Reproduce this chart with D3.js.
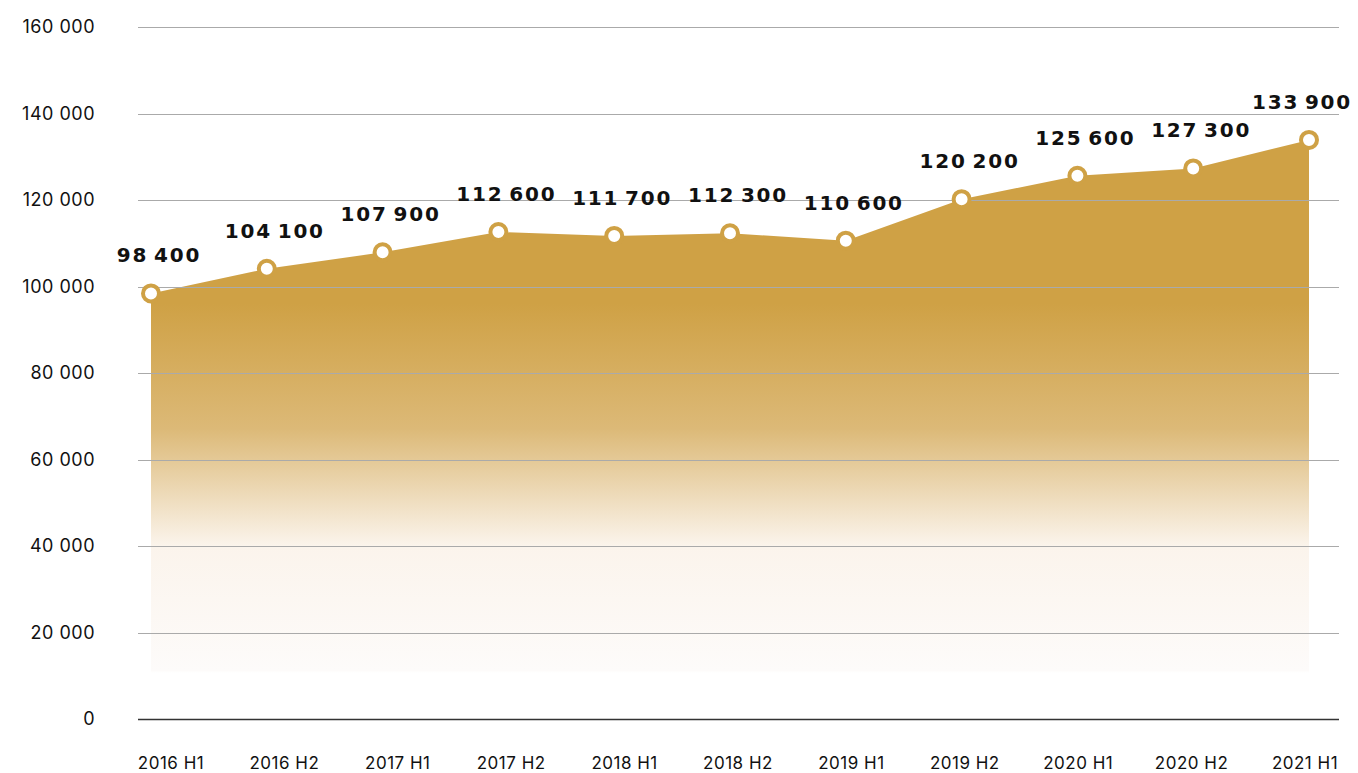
<!DOCTYPE html>
<html>
<head>
<meta charset="utf-8">
<script src="https://cdn.jsdelivr.net/npm/d3@7"></script>
<style>
  body { margin: 0; background: #fff; }
  svg { display: block; }
  .axis-label { font-family: Inter, "Noto Sans", sans-serif; fill: #111; }
  .value-label { font-family: "DejaVu Sans", sans-serif; font-weight: bold; font-size: 20px; letter-spacing: 1.8px; word-spacing: -3px; fill: #111; }
</style>
</head>
<body>
<svg id="chart" width="1358" height="773"></svg>
<script>
// periods and values (thousands shown with space separator)
const periods = ['2016 H1', '2016 H2', '2017 H1', '2017 H2', '2018 H1', '2018 H2',
                 '2019 H1', '2019 H2', '2020 H1', '2020 H2', '2021 H1']
const values = [98400, 104100, 107900, 112600, 111700, 112300, 110600, 120200, 125600, 127300, 133900]
const yTicks = [0, 20000, 40000, 60000, 80000, 100000, 120000, 140000, 160000]

const gold = '#cfa145'
const svg = d3.select('#chart')

// scales
const x = d3.scalePoint().domain(periods).range([151, 1309])
const xLabel = d3.scalePoint().domain(periods).range([171, 1305])
const y = d3.scaleLinear().domain([0, 160000]).range([719, 27])

const fmt = v => d3.format(',')(v).replace(/,/g, ' ')

// gradient for the area, anchored to the plot coordinates
const grad = svg.append('defs').append('linearGradient')
  .attr('id', 'areaFill')
  .attr('gradientUnits', 'userSpaceOnUse')
  .attr('x1', 0).attr('x2', 0)
  .attr('y1', y(160000)).attr('y2', y(0))
grad.selectAll('stop')
  .data([
    { o: 0, c: gold, a: 1 },
    { o: 0.4, c: gold, a: 1 },
    { o: 0.58, c: '#dcb977', a: 1 },
    { o: 0.75, c: '#fbf4ec', a: 1 },
    { o: 0.93, c: '#fdfbfa', a: 1 },
    { o: 0.935, c: '#ffffff', a: 0 },
    { o: 1, c: '#ffffff', a: 0 }
  ])
  .enter().append('stop')
  .attr('offset', d => d.o)
  .attr('stop-color', d => d.c)
  .attr('stop-opacity', d => d.a)

// area
const area = d3.area()
  .x((d, i) => x(periods[i]))
  .y0(y(0))
  .y1(d => y(d))

svg.append('path')
  .datum(values)
  .attr('d', area)
  .attr('fill', 'url(#areaFill)')

// gridlines on top of the fill
svg.append('g')
  .selectAll('line')
  .data(yTicks)
  .enter().append('line')
  .attr('x1', 138).attr('x2', 1339)
  .attr('y1', d => Math.round(y(d)) + 0.5)
  .attr('y2', d => Math.round(y(d)) + 0.5)
  .attr('stroke', d => d === 0 ? '#333' : '#aaa')
  .attr('stroke-width', d => d === 0 ? 1.5 : 1)

// y labels
svg.append('g')
  .selectAll('text')
  .data(yTicks)
  .enter().append('text')
  .attr('class', 'axis-label')
  .style('font-size', '18px')
  .style('letter-spacing', '0.5px')
  .attr('x', 95)
  .attr('y', d => y(d))
  .attr('dy', '0.36em')
  .attr('text-anchor', 'end')
  .text(d => fmt(d))

// x labels
svg.append('g')
  .selectAll('text')
  .data(periods)
  .enter().append('text')
  .attr('class', 'axis-label')
  .style('font-size', '17px')
  .style('letter-spacing', '0.5px')
  .attr('x', d => xLabel(d))
  .attr('y', 769)
  .attr('text-anchor', 'middle')
  .text(d => d)

// markers
svg.append('g')
  .selectAll('circle')
  .data(values)
  .enter().append('circle')
  .attr('cx', (d, i) => x(periods[i]))
  .attr('cy', d => y(d))
  .attr('r', 8)
  .attr('fill', '#fff')
  .attr('stroke', gold)
  .attr('stroke-width', 4)

// value labels
svg.append('g')
  .selectAll('text')
  .data(values)
  .enter().append('text')
  .attr('class', 'value-label')
  .attr('x', (d, i) => Math.min(x(periods[i]) + 8, 1302))
  .attr('y', d => y(d) - 31)
  .attr('text-anchor', 'middle')
  .text(d => fmt(d))
</script>
</body>
</html>
